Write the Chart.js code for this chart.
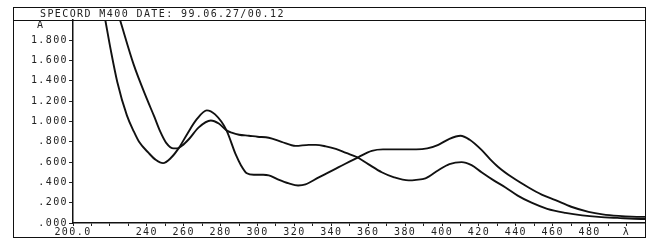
<!DOCTYPE html>
<html>
<head>
<meta charset="utf-8">
<script src="https://cdn.jsdelivr.net/npm/chart.js@4/dist/chart.umd.min.js"></script>
<style>
  body { margin: 0; background: #fff; }
  #wrap { position: relative; width: 660px; height: 240px; }
  #c { position: absolute; left: 0; top: 0; }
  .frame {
    position: absolute; left: 13px; top: 7px; width: 633px; height: 231px;
    border: 1.5px solid #111; box-sizing: border-box; pointer-events: none;
  }
  .titlebar {
    position: absolute; left: 13px; top: 7px; width: 633px; height: 14px;
    border-bottom: 1.5px solid #111; box-sizing: border-box;
    font: 10px "DejaVu Sans Mono", monospace; letter-spacing: 1.4px;
    line-height: 13px; color: #222; padding-left: 27px;
  }
  .alabel {
    position: absolute; left: 37px; top: 19px;
    font: 10px "DejaVu Sans Mono", monospace; color: #222;
  }
</style>
</head>
<body>
<div id="wrap">
  <canvas id="c" width="660" height="240"></canvas>
  <div class="frame"></div>
  <div class="titlebar">SPECORD M400 DATE: 99.06.27/00.12</div>
  <div class="alabel">A</div>
</div>
<script>
// wavelength (nm) / absorbance
const wlA  = [217.5, 220.4, 224.0, 229.2, 233.0, 235.8, 241, 245, 248.8, 253, 257.4, 262, 267, 272.5, 277, 283,
              288.3, 291, 294.2, 298, 303, 306.1, 311, 317, 322, 326, 333.2, 344, 354.8, 361.9, 368, 376.5,
              386, 392, 398, 404, 410, 415, 421.4, 426, 430.6, 438, 446.9, 454, 461.5, 470, 479.4, 487, 495.6, 508, 512];
const absA = [2.00, 1.71, 1.39, 1.06, 0.90, 0.80, 0.69, 0.62, 0.59, 0.64, 0.74, 0.88, 1.02, 1.11, 1.07, 0.92,
              0.67, 0.57, 0.49, 0.475, 0.475, 0.47, 0.43, 0.39, 0.37, 0.38, 0.45, 0.55, 0.65, 0.71, 0.725, 0.725,
              0.725, 0.735, 0.77, 0.83, 0.86, 0.82, 0.72, 0.63, 0.55, 0.45, 0.35, 0.28, 0.225, 0.16, 0.11, 0.085, 0.07, 0.06, 0.06];

const wlB  = [225.5, 232.9, 240.1, 244, 247.3, 250.5, 254.5, 256.5, 259, 263, 268, 274.7, 279, 283.4, 286, 290,
              295.3, 300, 306.1, 313, 320.7, 327.8, 331.6, 337, 342.4, 348, 353.8, 360, 367.3, 374, 381.9, 386,
              391, 398, 404, 410.6, 416, 421.4, 428, 434.4, 441, 448.5, 457, 466.9, 476, 484.8, 495, 508, 512];
const absB = [2.00, 1.56, 1.22, 1.05, 0.90, 0.79, 0.735, 0.735, 0.76, 0.83, 0.94, 1.01, 0.98, 0.91, 0.89, 0.87,
              0.86, 0.85, 0.84, 0.80, 0.76, 0.77, 0.77, 0.755, 0.73, 0.69, 0.65, 0.58, 0.50, 0.45, 0.42, 0.425,
              0.44, 0.52, 0.58, 0.60, 0.57, 0.50, 0.42, 0.35, 0.27, 0.20, 0.14, 0.10, 0.075, 0.06, 0.05, 0.04, 0.04];

const xTicks = [200, 210, 220, 230, 240, 250, 260, 270, 280, 290, 300, 310, 320, 330, 340, 350, 360, 370,
                380, 390, 400, 410, 420, 430, 440, 450, 460, 470, 480, 490, 500];
const yTicks = [0, 0.2, 0.4, 0.6, 0.8, 1.0, 1.2, 1.4, 1.6, 1.8];

function xLabel(v) {
    if (v === 200) return "200.0";
    if (v === 500) return "λ";
    if (v % 20 === 0 && v !== 220) return String(v);
    return "";
}

function yLabel(v) {
    const s = v.toFixed(3);
    return v < 1 ? s.slice(1) : s;
}

const toPoints = (xs, ys) => xs.map((x, i) => ({ x: x, y: ys[i] }));

Chart.defaults.font.family = '"DejaVu Sans Mono", monospace';
Chart.defaults.font.size = 10;
Chart.defaults.color = "#222";

const spacing = {
    id: "spacing",
    beforeDraw(chart) { chart.ctx.letterSpacing = "1.4px"; }
};

new Chart(document.getElementById("c").getContext("2d"), {
    type: "line",
    data: {
        datasets: [
            { data: toPoints(wlA, absA), borderColor: "#111", borderWidth: 1.9, pointRadius: 0,
              cubicInterpolationMode: "monotone", fill: false },
            { data: toPoints(wlB, absB), borderColor: "#111", borderWidth: 1.9, pointRadius: 0,
              cubicInterpolationMode: "monotone", fill: false }
        ]
    },
    options: {
        responsive: false,
        animation: false,
        layout: { padding: { left: 13, right: 15, top: 20, bottom: 0 } },
        plugins: { legend: { display: false }, tooltip: { enabled: false } },
        scales: {
            x: {
                type: "linear", min: 200, max: 510,
                afterBuildTicks: s => { s.ticks = xTicks.map(v => ({ value: v })); },
                afterFit: s => { s.height = 17; },
                ticks: { callback: xLabel, maxRotation: 0, autoSkip: false, padding: 0 },
                grid: { drawOnChartArea: false, drawTicks: true, tickLength: 3, color: "#222" },
                border: { display: true, color: "#111", width: 1.5 }
            },
            y: {
                min: 0, max: 2.0,
                afterBuildTicks: s => { s.ticks = yTicks.map(v => ({ value: v })); },
                afterFit: s => { s.width = 60; },
                ticks: { callback: yLabel, padding: 1 },
                grid: { drawOnChartArea: false, drawTicks: true, tickLength: 4, color: "#222" },
                border: { display: true, color: "#111", width: 1.5 }
            }
        }
    },
    plugins: [spacing]
});
</script>
</body>
</html>
